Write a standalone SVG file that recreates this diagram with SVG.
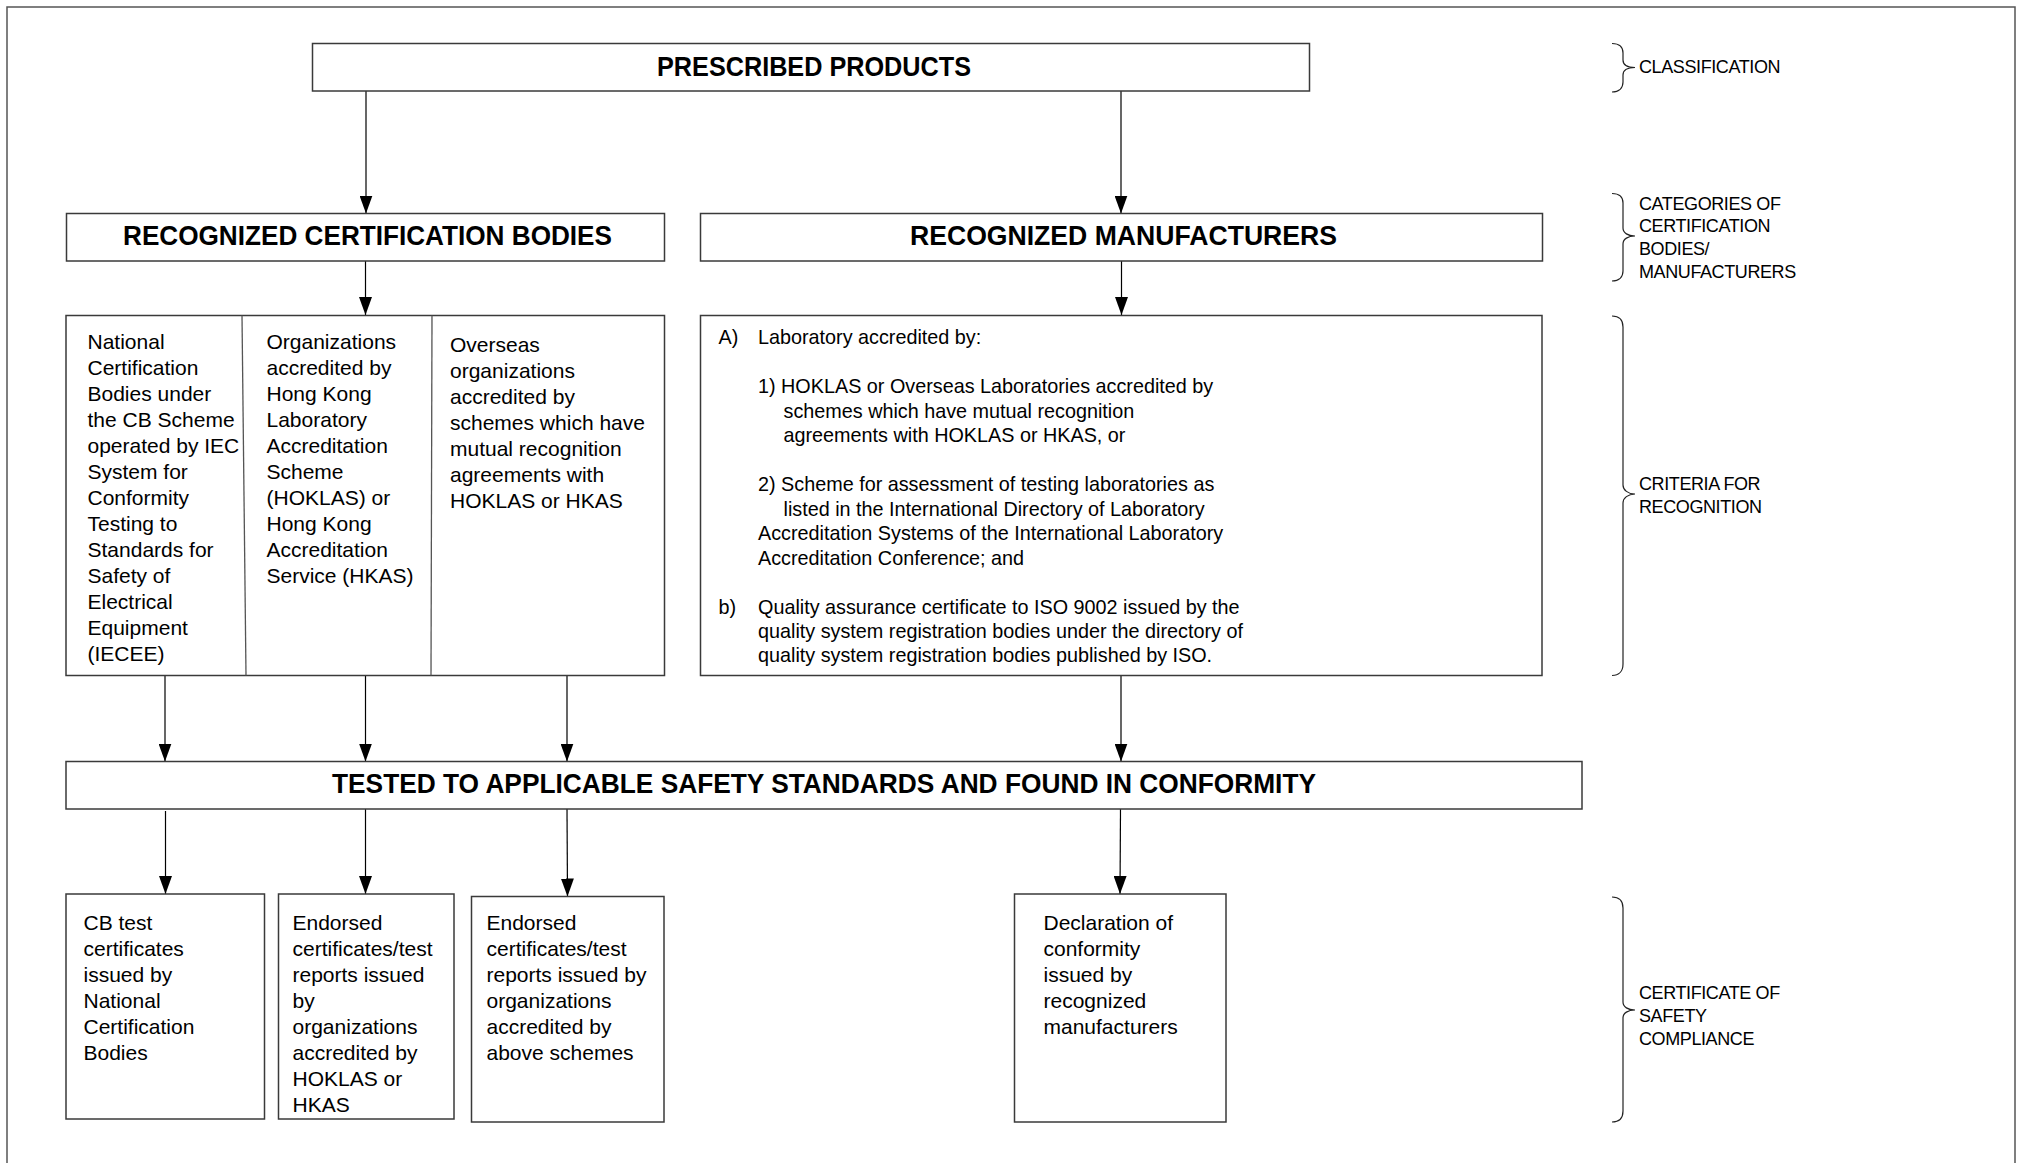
<svg xmlns="http://www.w3.org/2000/svg" width="2022" height="1163" viewBox="0 0 2022 1163">
<defs>
<style>
.bg{fill:#fff}
.frame{fill:none;stroke:#555;stroke-width:1.5}
.box{fill:#fff;stroke:#3a3a3a;stroke-width:1.5}
.div{stroke:#555;stroke-width:1.3}
.ln{fill:none;stroke:#000;stroke-width:1.2}
.br{fill:none;stroke:#222;stroke-width:1.2}
text{font-family:"Liberation Sans",Arial,sans-serif;fill:#000}
.t{font-size:21px}
.r{font-size:19.8px}
.h{font-size:28px;font-weight:bold}
.h2{font-size:27px;font-weight:bold}
.lab{font-size:18px;letter-spacing:-0.4px}
</style>
<marker id="arr" markerUnits="userSpaceOnUse" markerWidth="18" markerHeight="13" refX="18" refY="6.5" orient="auto">
<path d="M0,0 L18,6.5 L0,13 Z" fill="#000"/>
</marker>
</defs>
<rect class="bg" x="0" y="0" width="2022" height="1163"/>
<path class="frame" d="M7,1170 V7 H2015 V1170"/>

<g id="connectors">
<line class="ln" x1="366" y1="91" x2="366" y2="213.5" marker-end="url(#arr)"/>
<line class="ln" x1="1121" y1="91" x2="1121" y2="213.5" marker-end="url(#arr)"/>
<line class="ln" x1="365.5" y1="261" x2="365.5" y2="315" marker-end="url(#arr)"/>
<line class="ln" x1="1121.5" y1="261" x2="1121.5" y2="315" marker-end="url(#arr)"/>
<line class="ln" x1="165" y1="676" x2="165" y2="761.5" marker-end="url(#arr)"/>
<line class="ln" x1="365.5" y1="676" x2="365.5" y2="761.5" marker-end="url(#arr)"/>
<line class="ln" x1="567" y1="676" x2="567" y2="761.5" marker-end="url(#arr)"/>
<line class="ln" x1="1121" y1="676" x2="1121" y2="761.5" marker-end="url(#arr)"/>
<line class="ln" x1="165.5" y1="811" x2="165.5" y2="894" marker-end="url(#arr)"/>
<line class="ln" x1="365.5" y1="807" x2="365.5" y2="894" marker-end="url(#arr)"/>
<line class="ln" x1="567" y1="809" x2="567.5" y2="896.5" marker-end="url(#arr)"/>
<line class="ln" x1="1120.5" y1="809" x2="1120" y2="894" marker-end="url(#arr)"/>
</g>

<g id="prescribed-products">
<rect class="box" x="312.5" y="43.5" width="997" height="47.5"/>
<text class="h" x="814" y="76" text-anchor="middle" textLength="314" lengthAdjust="spacingAndGlyphs">PRESCRIBED PRODUCTS</text>
</g>

<g id="recognized-certification-bodies">
<rect class="box" x="66.5" y="213.5" width="598" height="47.5"/>
<text class="h2" x="367.5" y="245" text-anchor="middle" textLength="489" lengthAdjust="spacingAndGlyphs">RECOGNIZED CERTIFICATION BODIES</text>
</g>

<g id="recognized-manufacturers">
<rect class="box" x="700.5" y="213.5" width="842" height="47.5"/>
<text class="h2" x="1123.5" y="245" text-anchor="middle" textLength="427" lengthAdjust="spacingAndGlyphs">RECOGNIZED MANUFACTURERS</text>
</g>

<g id="criteria-certification-bodies">
<rect class="box" x="66" y="315.5" width="598.5" height="360"/>
<line class="div" x1="242" y1="315.5" x2="246" y2="675.5"/>
<line class="div" x1="432" y1="315.5" x2="431" y2="675.5"/>
<text class="t" x="87.5" y="349">
<tspan x="87.5" y="349">National</tspan>
<tspan x="87.5" y="375">Certification</tspan>
<tspan x="87.5" y="401">Bodies under</tspan>
<tspan x="87.5" y="427">the CB Scheme</tspan>
<tspan x="87.5" y="453">operated by IEC</tspan>
<tspan x="87.5" y="479">System for</tspan>
<tspan x="87.5" y="505">Conformity</tspan>
<tspan x="87.5" y="531">Testing to</tspan>
<tspan x="87.5" y="557">Standards for</tspan>
<tspan x="87.5" y="583">Safety of</tspan>
<tspan x="87.5" y="609">Electrical</tspan>
<tspan x="87.5" y="635">Equipment</tspan>
<tspan x="87.5" y="661">(IECEE)</tspan>
</text>
<text class="t" x="266.5" y="349">
<tspan x="266.5" y="349">Organizations</tspan>
<tspan x="266.5" y="375">accredited by</tspan>
<tspan x="266.5" y="401">Hong Kong</tspan>
<tspan x="266.5" y="427">Laboratory</tspan>
<tspan x="266.5" y="453">Accreditation</tspan>
<tspan x="266.5" y="479">Scheme</tspan>
<tspan x="266.5" y="505">(HOKLAS) or</tspan>
<tspan x="266.5" y="531">Hong Kong</tspan>
<tspan x="266.5" y="557">Accreditation</tspan>
<tspan x="266.5" y="583">Service (HKAS)</tspan>
</text>
<text class="t" x="450" y="352">
<tspan x="450" y="352">Overseas</tspan>
<tspan x="450" y="378">organizations</tspan>
<tspan x="450" y="404">accredited by</tspan>
<tspan x="450" y="430">schemes which have</tspan>
<tspan x="450" y="456">mutual recognition</tspan>
<tspan x="450" y="482">agreements with</tspan>
<tspan x="450" y="508">HOKLAS or HKAS</tspan>
</text>
</g>

<g id="criteria-manufacturers">
<rect class="box" x="700.5" y="315.5" width="841.5" height="360"/>
<text class="r" x="718.5" y="344">A)</text>
<text class="r" x="758" y="344">Laboratory accredited by:</text>
<text class="r" x="758" y="393">1) HOKLAS or Overseas Laboratories accredited by</text>
<text class="r" x="783.5" y="417.5">schemes which have mutual recognition</text>
<text class="r" x="783.5" y="442">agreements with HOKLAS or HKAS, or</text>
<text class="r" x="758" y="491">2) Scheme for assessment of testing laboratories as</text>
<text class="r" x="783.5" y="515.5">listed in the International Directory of Laboratory</text>
<text class="r" x="758" y="540">Accreditation Systems of the International Laboratory</text>
<text class="r" x="758" y="564.5">Accreditation Conference; and</text>
<text class="r" x="718.5" y="613.5">b)</text>
<text class="r" x="758" y="613.5">Quality assurance certificate to ISO 9002 issued by the</text>
<text class="r" x="758" y="637.5">quality system registration bodies under the directory of</text>
<text class="r" x="758" y="662">quality system registration bodies published by ISO.</text>
</g>

<g id="tested-conformity">
<rect class="box" x="66" y="761.5" width="1516" height="47.5"/>
<text class="h" x="824" y="793" text-anchor="middle" textLength="984" lengthAdjust="spacingAndGlyphs">TESTED TO APPLICABLE SAFETY STANDARDS AND FOUND IN CONFORMITY</text>
</g>

<g id="cb-test-certificates">
<rect class="box" x="66" y="894" width="198.5" height="225"/>
<text class="t">
<tspan x="83.5" y="930">CB test</tspan>
<tspan x="83.5" y="956">certificates</tspan>
<tspan x="83.5" y="982">issued by</tspan>
<tspan x="83.5" y="1008">National</tspan>
<tspan x="83.5" y="1034">Certification</tspan>
<tspan x="83.5" y="1060">Bodies</tspan>
</text>
</g>

<g id="endorsed-hoklas">
<rect class="box" x="278.5" y="894" width="175.5" height="225"/>
<text class="t">
<tspan x="292.5" y="930">Endorsed</tspan>
<tspan x="292.5" y="956">certificates/test</tspan>
<tspan x="292.5" y="982">reports issued</tspan>
<tspan x="292.5" y="1008">by</tspan>
<tspan x="292.5" y="1034">organizations</tspan>
<tspan x="292.5" y="1060">accredited by</tspan>
<tspan x="292.5" y="1086">HOKLAS or</tspan>
<tspan x="292.5" y="1112">HKAS</tspan>
</text>
</g>

<g id="endorsed-schemes">
<rect class="box" x="471.5" y="896.5" width="192.5" height="225.5"/>
<text class="t">
<tspan x="486.5" y="930">Endorsed</tspan>
<tspan x="486.5" y="956">certificates/test</tspan>
<tspan x="486.5" y="982">reports issued by</tspan>
<tspan x="486.5" y="1008">organizations</tspan>
<tspan x="486.5" y="1034">accredited by</tspan>
<tspan x="486.5" y="1060">above schemes</tspan>
</text>
</g>

<g id="declaration-of-conformity">
<rect class="box" x="1014.5" y="894" width="211.5" height="228"/>
<text class="t">
<tspan x="1043.5" y="930">Declaration of</tspan>
<tspan x="1043.5" y="956">conformity</tspan>
<tspan x="1043.5" y="982">issued by</tspan>
<tspan x="1043.5" y="1008">recognized</tspan>
<tspan x="1043.5" y="1034">manufacturers</tspan>
</text>
</g>

<g id="label-classification">
<path class="br" d="M1612,43.5 C1619,43.5 1623,47 1623,53 L1623,60 C1623,65 1628,67.5 1635,67.5 C1628,67.5 1623,70 1623,75 L1623,82 C1623,88 1619,92 1612,92"/>
<text class="lab" x="1639" y="73">CLASSIFICATION</text>
</g>

<g id="label-categories">
<path class="br" d="M1612,193.5 C1619,193.5 1623,197 1623,203 L1623,228 C1623,233 1628,236 1635,236 C1628,236 1623,239 1623,244 L1623,271 C1623,277 1619,281 1612,281"/>
<text class="lab">
<tspan x="1639" y="209.5">CATEGORIES OF</tspan>
<tspan x="1639" y="232">CERTIFICATION</tspan>
<tspan x="1639" y="255">BODIES/</tspan>
<tspan x="1639" y="278">MANUFACTURERS</tspan>
</text>
</g>

<g id="label-criteria">
<path class="br" d="M1612,316 C1619,316 1623,320 1623,327 L1623,485 C1623,490 1628,494 1635,494 C1628,494 1623,498 1623,503 L1623,664 C1623,671 1619,675.5 1612,675.5"/>
<text class="lab">
<tspan x="1639" y="490">CRITERIA FOR</tspan>
<tspan x="1639" y="513">RECOGNITION</tspan>
</text>
</g>

<g id="label-certificate">
<path class="br" d="M1612,897 C1619,897 1623,901 1623,908 L1623,1002 C1623,1007 1628,1010 1635,1010 C1628,1010 1623,1013 1623,1018 L1623,1111 C1623,1118 1619,1122 1612,1122"/>
<text class="lab">
<tspan x="1639" y="998.5">CERTIFICATE OF</tspan>
<tspan x="1639" y="1021.5">SAFETY</tspan>
<tspan x="1639" y="1044.5">COMPLIANCE</tspan>
</text>
</g>
</svg>
